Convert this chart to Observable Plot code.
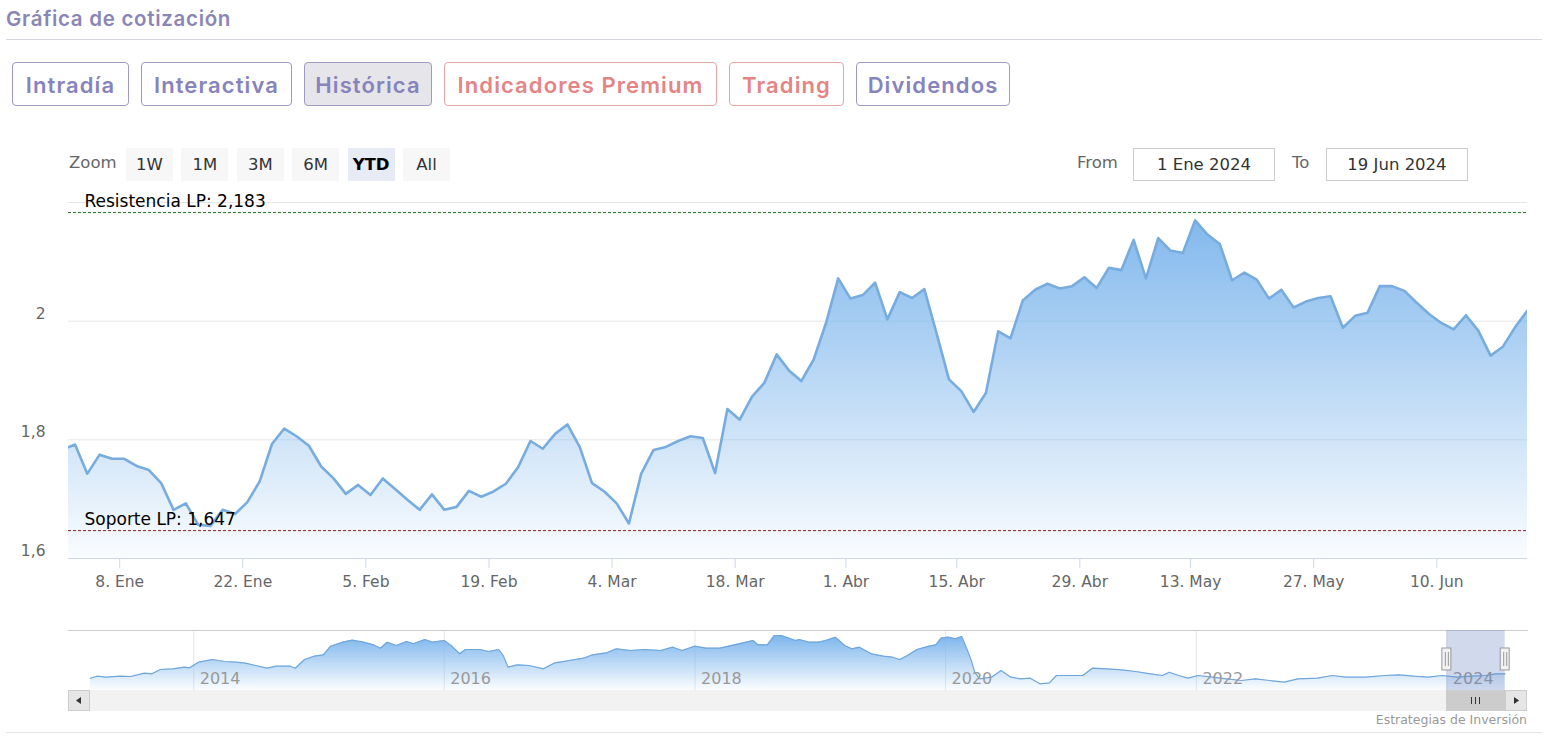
<!DOCTYPE html>
<html><head><meta charset="utf-8">
<script src="https://cdn.jsdelivr.net/npm/d3@7"></script>
<script src="https://cdn.jsdelivr.net/npm/@observablehq/plot@0.6"></script>
<style>
body{margin:0;background:#fff;width:1554px;height:751px;overflow:hidden;position:relative;font-family:"DejaVu Sans",sans-serif}
.abs{position:absolute}
#title{left:6px;top:6px;font:600 20.5px Inter,sans-serif;color:#8a86b6;letter-spacing:0.7px}
#hr{left:6px;top:39px;width:1536px;height:1px;background:#d6d6de}
.tab{position:absolute;top:62px;height:44px;box-sizing:border-box;border:1px solid #9d9ac4;border-radius:4px;display:flex;align-items:center;justify-content:center;font:600 22px Inter,sans-serif;letter-spacing:1.1px;color:#8783bc;background:#fff;padding-top:1px}
.tab.red{border-color:#e6a6a6;color:#e48585}
.tab.on{background:#e6e6ea}
.rb{position:absolute;top:148px;height:33px;width:47px;background:#f7f7f7;color:#333;font-size:16.5px;display:flex;align-items:center;justify-content:center}
.rb.sel{background:#e6ebf5;color:#000;font-weight:bold}
.lbl{position:absolute;top:153px;font-size:16.5px;color:#666}
.inp{position:absolute;top:148px;height:33px;width:142px;box-sizing:border-box;border:1px solid #ccc;display:flex;align-items:center;justify-content:center;font-size:16.5px;color:#333}
#credits{right:27px;top:712px;font-size:12.5px;color:#999}
#bline{left:6px;top:732px;width:1536px;height:1px;background:#e2e2e2}
.sbtn{position:absolute;top:690px;width:22px;height:21px;box-sizing:border-box;background:#e6e6e6;border:1px solid #ccc}
</style>
</head><body>
<svg width="0" height="0" style="position:absolute">
  <defs>
    <linearGradient id="mainGrad" x1="0" y1="0" x2="0" y2="1">
      <stop offset="0" stop-color="#7cb5ec" stop-opacity="0.95"/>
      <stop offset="1" stop-color="#7cb5ec" stop-opacity="0.04"/>
    </linearGradient>
    <linearGradient id="navGrad" x1="0" y1="0" x2="0" y2="1">
      <stop offset="0" stop-color="#7cb5ec" stop-opacity="1"/>
      <stop offset="1" stop-color="#7cb5ec" stop-opacity="0.03"/>
    </linearGradient>
  </defs>
</svg>
<div id="title" class="abs">Gráfica de cotización</div>
<div id="hr" class="abs"></div>
<div id="tabs"></div>
<div id="ranges"></div>
<div id="main" class="abs" style="left:0;top:190px"></div>
<div id="nav" class="abs" style="left:0;top:620px"></div>
<div id="scroll"></div>
<div id="credits" class="abs">Estrategias de Inversión</div>
<div id="bline" class="abs"></div>
<script>
// ---------- DATA ----------
const tabLabels = ["Intradía","Interactiva","Histórica","Indicadores Premium","Trading","Dividendos"];
const zoomButtons = ["1W","1M","3M","6M","YTD","All"];
const rangeFrom = "2024-01-01", rangeTo = "2024-06-19";
const rangeFromLabel = "1 Ene 2024", rangeToLabel = "19 Jun 2024";

const dates = [
"2023-12-29",
"2024-01-02","2024-01-03","2024-01-04","2024-01-05","2024-01-08","2024-01-09","2024-01-10","2024-01-11","2024-01-12","2024-01-15","2024-01-16","2024-01-17","2024-01-18","2024-01-19","2024-01-22","2024-01-23","2024-01-24","2024-01-25","2024-01-26","2024-01-29","2024-01-30","2024-01-31",
"2024-02-01","2024-02-02","2024-02-05","2024-02-06","2024-02-07","2024-02-08","2024-02-09","2024-02-12","2024-02-13","2024-02-14","2024-02-15","2024-02-16","2024-02-19","2024-02-20","2024-02-21","2024-02-22","2024-02-23","2024-02-26","2024-02-27","2024-02-28","2024-02-29",
"2024-03-01","2024-03-04","2024-03-05","2024-03-06","2024-03-07","2024-03-08","2024-03-11","2024-03-12","2024-03-13","2024-03-14","2024-03-15","2024-03-18","2024-03-19","2024-03-20","2024-03-21","2024-03-22","2024-03-25","2024-03-26","2024-03-27","2024-03-28",
"2024-04-02","2024-04-03","2024-04-04","2024-04-05","2024-04-08","2024-04-09","2024-04-10","2024-04-11","2024-04-12","2024-04-15","2024-04-16","2024-04-17","2024-04-18","2024-04-19","2024-04-22","2024-04-23","2024-04-24","2024-04-25","2024-04-26","2024-04-29","2024-04-30",
"2024-05-02","2024-05-03","2024-05-06","2024-05-07","2024-05-08","2024-05-09","2024-05-10","2024-05-13","2024-05-14","2024-05-15","2024-05-16","2024-05-17","2024-05-20","2024-05-21","2024-05-22","2024-05-23","2024-05-24","2024-05-27","2024-05-28","2024-05-29","2024-05-30","2024-05-31",
"2024-06-03","2024-06-04","2024-06-05","2024-06-06","2024-06-07","2024-06-10","2024-06-11","2024-06-12","2024-06-13","2024-06-14","2024-06-17","2024-06-18","2024-06-19"];

const prices = [
1.784,
1.792,1.743,1.775,1.768,1.768,1.756,1.749,1.727,1.682,1.693,1.657,1.655,1.682,1.675,1.695,1.730,1.793,1.819,1.806,1.790,1.755,1.735,
1.709,1.724,1.707,1.735,1.717,1.699,1.682,1.708,1.682,1.687,1.714,1.704,1.713,1.726,1.754,1.798,1.785,1.810,1.826,1.788,1.727,
1.713,1.693,1.659,1.743,1.783,1.788,1.798,1.806,1.803,1.744,1.852,1.834,1.873,1.896,1.944,1.917,1.899,1.935,1.996,2.072,
2.038,2.044,2.065,2.003,2.049,2.039,2.054,1.979,1.902,1.882,1.847,1.879,1.983,1.971,2.035,2.053,2.063,2.055,2.059,2.074,2.056,
2.090,2.086,2.137,2.072,2.140,2.119,2.115,2.170,2.146,2.130,2.069,2.082,2.070,2.038,2.053,2.023,2.033,2.039,2.042,1.989,2.009,2.014,
2.059,2.059,2.051,2.031,2.012,1.997,1.986,2.010,1.984,1.942,1.957,1.990,2.018];

const tickDates = ["2024-01-08","2024-01-22","2024-02-05","2024-02-19","2024-03-04","2024-03-18","2024-04-01","2024-04-15","2024-04-29","2024-05-13","2024-05-27","2024-06-10"];
const tickLabels = ["8. Ene","22. Ene","5. Feb","19. Feb","4. Mar","18. Mar","1. Abr","15. Abr","29. Abr","13. May","27. May","10. Jun"];

const yTicks = [1.6, 1.8, 2.0];
const yGrid = [1.8, 2.0, 2.2];
const yDomain = [1.6, 2.2];

const levelValues = [2.183, 1.647];
const levelLabels = ["Resistencia LP: 2,183", "Soporte LP: 1,647"];
const levelColors = ["#1f6e1f", "#8e1b24"];

const navDates = ["2013-03-06","2013-03-25","2013-04-21","2013-06-01","2013-07-01","2013-08-10","2013-09-01","2013-09-26","2013-11-01","2013-12-05","2013-12-20",
"2014-01-15","2014-02-25","2014-04-01","2014-05-05","2014-06-01","2014-06-30","2014-08-03","2014-08-30","2014-10-10","2014-10-24","2014-11-20","2014-12-18",
"2015-01-14","2015-02-04","2015-03-11","2015-04-08","2015-05-11","2015-06-09","2015-06-29","2015-07-19","2015-08-15","2015-09-13","2015-10-03","2015-11-06","2015-11-28",
"2016-01-01","2016-01-21","2016-02-15","2016-03-03","2016-04-14","2016-05-10","2016-06-08","2016-06-21","2016-07-05","2016-08-01","2016-09-04","2016-10-16","2016-11-19","2016-12-30",
"2017-02-10","2017-03-09","2017-04-19","2017-05-17","2017-06-27","2017-08-08","2017-09-23","2017-10-28","2017-11-25","2017-12-30",
"2018-02-02","2018-03-14","2018-05-09","2018-06-19","2018-07-03","2018-07-31","2018-08-20","2018-09-10","2018-10-21","2018-11-01","2018-11-28","2018-12-27",
"2019-01-17","2019-02-14","2019-03-13","2019-04-03","2019-04-25","2019-05-30","2019-07-04","2019-07-31","2019-08-21","2019-09-12","2019-10-10","2019-11-14","2019-12-04","2019-12-19",
"2020-01-08","2020-01-30","2020-02-17","2020-03-03","2020-03-16","2020-03-26","2020-04-09","2020-05-14","2020-06-11","2020-07-09","2020-08-06","2020-09-04","2020-10-02","2020-10-30","2020-11-19","2020-12-24",
"2021-02-04","2021-03-04","2021-04-16","2021-05-28","2021-07-08","2021-08-20","2021-09-24","2021-10-14","2021-11-10","2021-12-08",
"2022-01-06","2022-02-17","2022-03-29","2022-05-12","2022-06-22","2022-08-03","2022-09-14","2022-10-24","2022-12-20",
"2023-02-01","2023-03-13","2023-05-09","2023-07-04","2023-08-15","2023-09-26","2023-11-07","2023-12-18",
"2024-01-31","2024-03-13","2024-04-24","2024-05-22","2024-06-19"];
const navValues = [1.63,1.83,1.73,1.83,1.80,2.13,2.07,2.50,2.57,2.73,2.67,
3.23,3.50,3.30,3.23,3.13,2.90,2.63,2.83,2.83,2.63,3.50,3.83,
3.97,4.83,5.23,5.43,5.23,4.97,4.63,5.23,4.90,5.30,5.07,5.50,5.23,
5.40,4.90,4.07,4.50,4.50,4.30,4.50,3.90,2.73,2.97,2.90,2.57,3.17,3.40,
3.63,3.97,4.17,4.57,4.40,4.50,4.40,4.73,4.40,4.83,
4.63,4.63,5.07,5.40,4.97,4.97,5.90,5.90,5.40,5.50,5.23,5.23,
5.40,5.73,4.90,4.57,4.73,4.07,3.83,3.73,3.50,3.90,4.50,4.83,4.97,5.63,
5.73,5.57,5.80,4.57,3.40,2.23,1.57,1.73,2.40,1.73,1.57,1.63,1.07,1.17,1.90,1.90,
1.90,2.63,2.57,2.47,2.30,2.07,1.90,2.23,1.90,1.63,
1.90,1.73,1.57,1.40,1.57,1.40,1.23,1.57,1.63,
1.90,1.73,1.73,1.90,1.97,1.83,1.73,1.90,
1.73,1.83,1.90,2.07,2.07];
const navTickYears = ["2014","2016","2018","2020","2022","2024"];
const navXDomain = ["2013-01-01","2024-08-23"];
const navYDomain = [0.4, 6.4];

// ---------- HTML controls ----------
const tabBoxes = [[12,117],[141,151],[304,128],[444,273],[729,115],[856,154]];
const tabs = document.getElementById("tabs");
tabLabels.forEach((t,k)=>{
  const d = document.createElement("div");
  d.className = "tab" + (k===3||k===4 ? " red" : "") + (k===2 ? " on" : "");
  d.style.left = tabBoxes[k][0]+"px"; d.style.width = tabBoxes[k][1]+"px";
  d.textContent = t; tabs.appendChild(d);
});
const ranges = document.getElementById("ranges");
const zl = document.createElement("div"); zl.className="lbl"; zl.style.left="69px"; zl.textContent="Zoom"; ranges.appendChild(zl);
zoomButtons.forEach((t,k)=>{
  const d = document.createElement("div");
  d.className = "rb" + (t==="YTD" ? " sel" : "");
  d.style.left = (126 + k*55.4)+"px"; d.textContent = t; ranges.appendChild(d);
});
[["From",1077],["To",1292]].forEach(([t,l])=>{const d=document.createElement("div");d.className="lbl";d.style.left=l+"px";d.textContent=t;ranges.appendChild(d);});
[[rangeFromLabel,1133],[rangeToLabel,1326]].forEach(([t,l])=>{const d=document.createElement("div");d.className="inp";d.style.left=l+"px";d.textContent=t;ranges.appendChild(d);});

// ---------- MAIN CHART ----------
const firstIdx = dates.indexOf("2024-01-02");
const data = dates.map((d,k)=>({i:k-firstIdx, v:prices[k]}));
const tickPos = tickDates.map(t=>dates.findIndex(d=>d>=t)-firstIdx-0.37);
const tickMap = new Map(tickPos.map((p,k)=>[p,tickLabels[k]]));
const levels = levelValues.map((v,k)=>({v, label:levelLabels[k], color:levelColors[k]}));
const fmt = d => d3.format(".1~f")(d).replace(".", ",");

const main = Plot.plot({
  width: 1554, height: 410,
  marginTop: 12, marginBottom: 42, marginLeft: 68, marginRight: 27,
  style: {fontFamily: "'DejaVu Sans', sans-serif", fontSize: "15.5px", background: "transparent", overflow: "visible"},
  x: {domain: [-0.53, data[data.length-1].i]},
  y: {domain: yDomain},
  marks: [
    Plot.ruleY(yGrid, {stroke: "#e6e6e6"}),
    Plot.areaY(data, {x: "i", y1: yDomain[0], y2: "v", fill: "url(#mainGrad)", clip: true}),
    Plot.lineY(data, {x: "i", y: "v", stroke: "#78acdf", strokeWidth: 2.6, clip: true}),
    Plot.ruleY(levels, {y: "v", stroke: "color", strokeDasharray: "3,2"}),
    Plot.text(levels, {y: "v", text: "label", frameAnchor: "left", dx: 16, dy: -11, textAnchor: "start", fill: "#000", fontSize: 17}),
    Plot.ruleY([yDomain[0]], {stroke: "#ccd6eb"}),
    Plot.axisX({ticks: tickPos, tickFormat: d => tickMap.get(d), tickSize: 10, tickPadding: 7, stroke: "#ccd6eb", fill: "#666", label: null}),
    Plot.axisY({ticks: yTicks, tickFormat: fmt, tickSize: 0, tickPadding: 23, dy: -7.5, fill: "#666", label: null})
  ]
});
document.getElementById("main").appendChild(main);

// ---------- NAVIGATOR ----------
const navData = navDates.map((d,k)=>({t:new Date(d), v:navValues[k]}));
const navTicks = navTickYears.map(y=>({t:new Date(y+"-01-01"), label:y}));
const sel = [{a:new Date(rangeFrom), b:new Date(rangeTo)}];
const handles = [new Date(rangeFrom), new Date(rangeTo)];
const nav = Plot.plot({
  width: 1554, height: 70,
  marginTop: 10, marginBottom: 0, marginLeft: 68, marginRight: 27,
  style: {fontFamily: "'DejaVu Sans', sans-serif", fontSize: "15.5px", background: "transparent", overflow: "visible"},
  x: {type: "utc", domain: navXDomain.map(d=>new Date(d)), axis: null},
  y: {domain: navYDomain, axis: null},
  marks: [
    Plot.ruleX(navTicks, {x: "t", stroke: "#e6e6e6"}),
    Plot.areaY(navData, {x: "t", y1: navYDomain[0], y2: "v", fill: "url(#navGrad)"}),
    Plot.lineY(navData, {x: "t", y: "v", stroke: "#6fa6dc", strokeWidth: 1.2}),
    Plot.text(navTicks, {x: "t", text: "label", frameAnchor: "bottom", dx: 6, dy: -7, textAnchor: "start", fill: "#999", fontSize: 16}),
    Plot.frame({anchor: "top", stroke: "#cccccc"}),
    Plot.rect(sel, {x1: "a", x2: "b", fill: "#6685c2", fillOpacity: 0.3}),
    Plot.rect(handles, {x1: d=>d, x2: d=>d, insetLeft: -4.5, insetRight: -4.5, insetTop: 18, insetBottom: 20, fill: "#f2f2f2", stroke: "#999"}),
    Plot.ruleX(handles, {x: d=>d, dx: -1.5, insetTop: 22, insetBottom: 24, stroke: "#999"}),
    Plot.ruleX(handles, {x: d=>d, dx: 1.5, insetTop: 22, insetBottom: 24, stroke: "#999"})
  ]
});
document.getElementById("nav").appendChild(nav);

// ---------- SCROLLBAR ----------
const sx = nav.scale("x");
const xa = sx.apply(new Date(rangeFrom)), xb = sx.apply(new Date(rangeTo));
const sc = document.getElementById("scroll");
sc.innerHTML = `
<div class="abs" style="left:68px;top:690px;width:1459px;height:21px;background:#f2f2f2"></div>
<div class="abs" style="left:${xa}px;top:690px;width:${xb-xa}px;height:21px;background:#cccccc"></div>
<div class="abs" style="left:${(xa+xb)/2-5}px;top:697px;width:1px;height:7px;background:#333"></div>
<div class="abs" style="left:${(xa+xb)/2-1}px;top:697px;width:1px;height:7px;background:#333"></div>
<div class="abs" style="left:${(xa+xb)/2+3}px;top:697px;width:1px;height:7px;background:#333"></div>
<div class="sbtn" style="left:68px"></div>
<div class="sbtn" style="left:1505px"></div>
<svg class="abs" style="left:68px;top:690px" width="22" height="21"><path d="M13,7 L8,10.5 L13,14 Z" fill="#333"/></svg>
<svg class="abs" style="left:1505px;top:690px" width="22" height="21"><path d="M9,7 L14,10.5 L9,14 Z" fill="#333"/></svg>`;
</script>
</body></html>
